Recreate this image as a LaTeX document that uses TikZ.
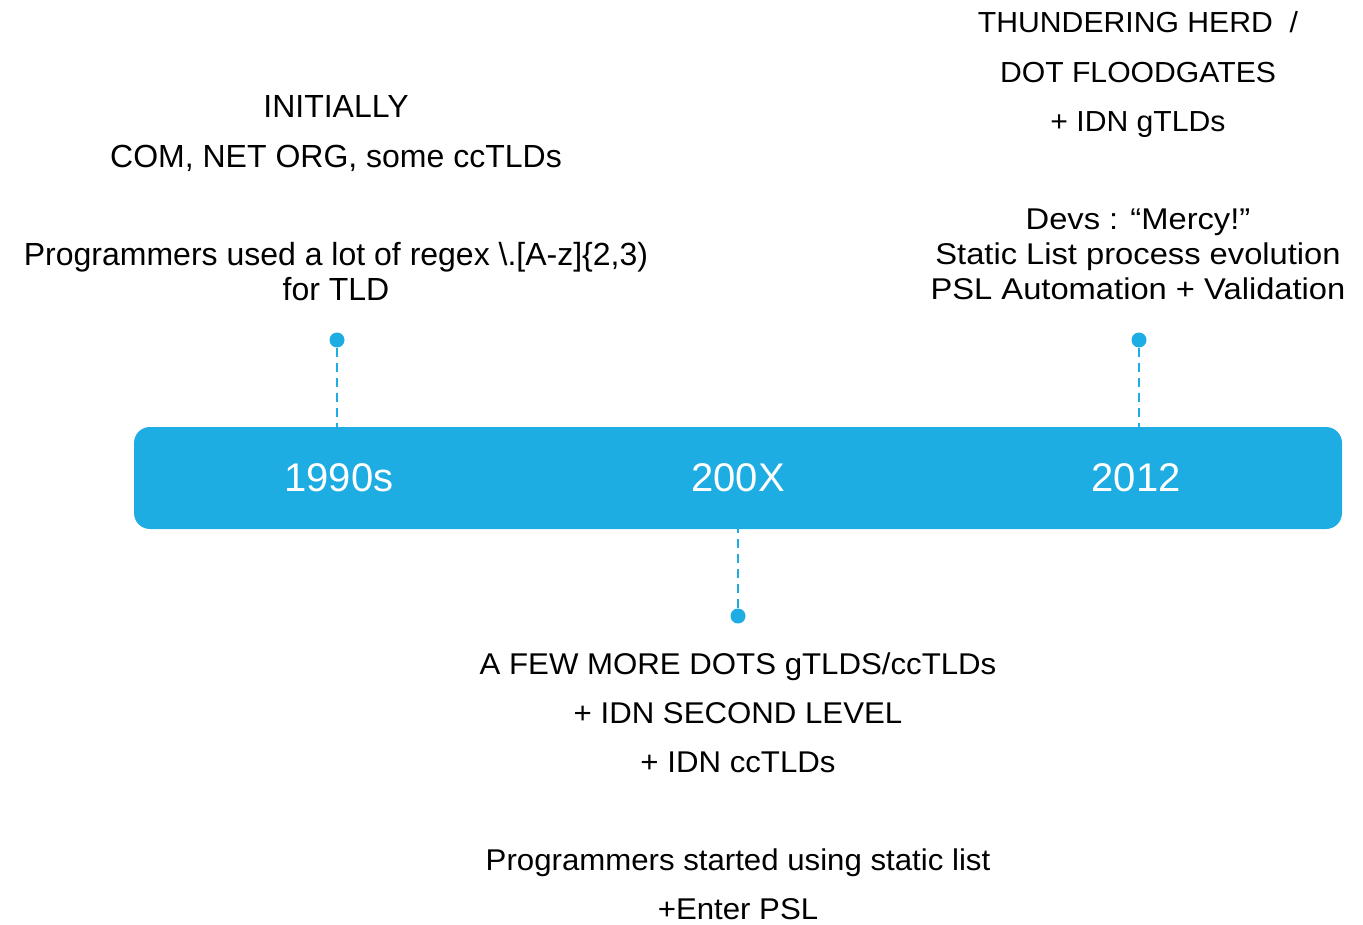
\documentclass[tikz,border=0pt]{standalone}
\usepackage{fontspec}
\setmainfont{Liberation Sans}
\newfontfamily\leftfont[FakeStretch=1.0]{Liberation Sans}
\newfontfamily\widefont[FakeStretch=1.09]{Liberation Sans}
\newfontfamily\midfont[FakeStretch=1.04]{Liberation Sans}
\definecolor{tlblue}{RGB}{30,173,227}
\begin{document}
\begin{tikzpicture}[x=1pt,y=-1pt,
  lbl/.style={inner sep=0pt,anchor=base,text=black},
  lefttxt/.style={lbl,font=\leftfont\fontsize{32}{36}\selectfont},
  righttxt/.style={lbl,font=\widefont\fontsize{30}{34}\selectfont},
  toptxt/.style={lbl,font=\midfont\fontsize{29}{34}\selectfont},
  bottxt/.style={lbl,font=\midfont\fontsize{30}{34}\selectfont},
  yeartxt/.style={inner sep=0pt,anchor=base,text=white,font=\fontsize{40}{44}\selectfont},
  dot/.style={circle,fill=tlblue,inner sep=0pt,minimum size=15pt},
  link/.style={draw=tlblue,line width=2.2pt,dash pattern=on 9pt off 6pt}
]
\useasboundingbox (0,0) rectangle (1363,925);
% bar
\node[fill=tlblue,rounded corners=16pt,minimum width=1208pt,minimum height=102pt,inner sep=0pt] (bar) at (738,478) {};
% years
\node[yeartxt] (y1) at (339,491) {1990s};
\node[yeartxt] (y2) at (738,491) {200X};
\node[yeartxt] (y3) at (1136,491) {2012};
% dots
\node[dot] (d1) at (337,340) {};
\node[dot] (d2) at (738,616) {};
\node[dot] (d3) at (1139,340) {};
\draw[link] (d1) -- (d1 |- bar.north);
\draw[link] (d2) -- (d2 |- bar.south);
\draw[link] (d3) -- (d3 |- bar.north);
% left texts
\node[lefttxt] (l1) at (336,118) {INITIALLY};
\node[lefttxt] (l2) at (336,168) {COM, NET ORG, some ccTLDs};
\node[lefttxt] (l3) at (336,266) {Programmers used a lot of regex \textbackslash.[A-z]\{2,3)};
\node[lefttxt] (l4) at (336,301) {for TLD};
% right texts
\node[toptxt] (r1) at (1138,33) {THUNDERING HERD~~/};
\node[toptxt] (r2) at (1138,83) {DOT FLOODGATES};
\node[toptxt] (r3) at (1138,132) {+ IDN gTLDs};
\node[righttxt] (r4) at (1138,230) {Devs : “Mercy!”};
\node[righttxt] (r5) at (1138,265) {Static List process evolution};
\node[righttxt] (r6) at (1138,300) {PSL Automation + Validation};
% bottom texts
\node[bottxt] (b1) at (738,674) {A FEW MORE DOTS gTLDS/ccTLDs};
\node[bottxt] (b2) at (738,723) {+ IDN SECOND LEVEL};
\node[bottxt] (b3) at (738,772) {+ IDN ccTLDs};
\node[bottxt] (b4) at (738,870) {Programmers started using static list};
\node[bottxt] (b5) at (738,919) {+Enter PSL};
\end{tikzpicture}
\end{document}
